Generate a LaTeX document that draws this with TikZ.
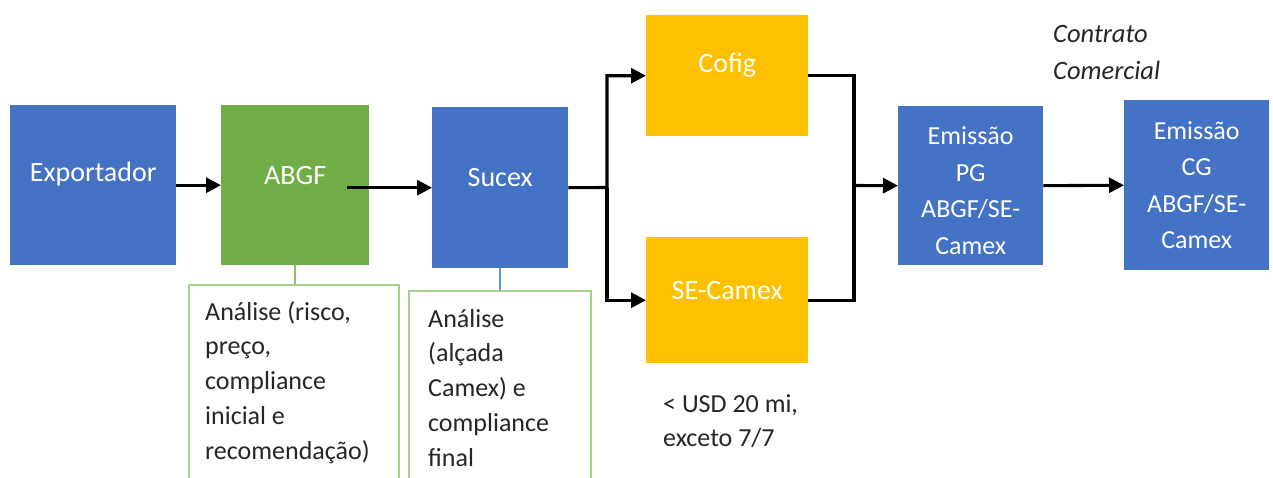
\documentclass[tikz,border=0pt]{standalone}
\usepackage{fontspec}
\setmainfont{Carlito}
\usetikzlibrary{arrows.meta}
\definecolor{cblue}{HTML}{4472C4}
\definecolor{cgreen}{HTML}{70AD47}
\definecolor{cyellow}{HTML}{FFC000}
\definecolor{notegreen}{HTML}{A9D18E}
\definecolor{linkgreen}{HTML}{8CC168}
\definecolor{linkblue}{HTML}{5B9BD5}
\begin{document}
\begin{tikzpicture}[x=1pt,y=-1pt,
  blk/.style={draw=none, inner sep=0pt, anchor=north west},
  bluebox/.style={blk, fill=cblue},
  greenbox/.style={blk, fill=cgreen},
  yellowbox/.style={blk, fill=cyellow},
  boxtxt/.style={text=white, font=\fontsize{26}{36.5}\selectfont, align=center, inner sep=0pt},
  bigtxt/.style={boxtxt, font=\fontsize{28}{36.5}\selectfont},
  notebox/.style={draw=notegreen, line width=1.6pt, inner sep=0pt, anchor=north west},
  notetxt/.style={text=black!85, font=\fontsize{26}{34.7}\selectfont, align=left, inner sep=0pt, anchor=north west},
  plainline/.style={line width=3.1pt, line join=miter},
  arr/.style={plainline, -{Triangle[length=15pt,width=15pt]}}
]
\clip (0,0) rectangle (1273,477);
\fill[white] (0,0) rectangle (1273,477);

% main boxes
\node[bluebox, minimum width=166pt, minimum height=160pt] (exp) at (10,105) {};
\node[greenbox, minimum width=148pt, minimum height=160pt] (abgf) at (221,105) {};
\node[bluebox, minimum width=136pt, minimum height=161pt] (sucex) at (432,107) {};
\node[yellowbox, minimum width=162pt, minimum height=121pt] (cofig) at (646,15) {};
\node[yellowbox, minimum width=162pt, minimum height=126pt] (secamex) at (646,237) {};
\node[bluebox, minimum width=145pt, minimum height=159pt] (pg) at (898,106) {};
\node[bluebox, minimum width=145pt, minimum height=170pt] (cg) at (1124,100) {};

% box texts
\node[bigtxt, yshift=11pt] (expT) at (exp.center) {Exportador};
\node[bigtxt, yshift=10pt] (abgfT) at (abgf.center) {ABGF};
\node[bigtxt, yshift=10pt] (sucexT) at (sucex.center) {Sucex};
\node[bigtxt, yshift=10pt] (cofigT) at (cofig.center) {Cofig};
\node[bigtxt, yshift=10pt] (secamexT) at (secamex.center) {SE-Camex};
\node[boxtxt, yshift=-5pt] (pgT) at (pg.center) {Emissão\\PG\\ABGF/SE-\\Camex};
\node[boxtxt] (cgT) at (cg.center) {Emissão\\CG\\ABGF/SE-\\Camex};

% note boxes
\node[notebox, minimum width=210pt, minimum height=220pt] (note1) at (188,284) {};
\node[notebox, minimum width=182pt, minimum height=220pt] (note2) at (408,290) {};
\draw[linkgreen, line width=1.6pt] (abgf.south) -- (abgf.south |- note1.north);
\draw[linkblue, line width=1.6pt] (sucex.south) -- (sucex.south |- note2.north);
\node[notetxt] (note1T) at (205,301) {Análise (risco,\\preço,\\compliance\\inicial e\\recomendação)};
\node[notetxt] (note2T) at (428,309) {Análise\\(alçada\\Camex) e\\compliance\\final};

% free texts
\node[notetxt, font=\fontsize{26}{34}\selectfont] (usd) at (663,394) {< USD 20 mi,\\exceto 7/7};
\node[notetxt, font=\fontsize{26.5}{37}\selectfont\itshape] (contrato) at (1053,25) {Contrato\\Comercial};

% connectors
\coordinate (split) at (607,187.5);
\coordinate (merge) at (854,185.5);
\draw[arr] (exp) -- (abgf);
\draw[arr] ([xshift=-22pt]abgf.east |- sucex.west) -- (sucex.west);
\draw[arr] (sucex.east) -- (split) |- (cofig.west);
\draw[arr] (split) |- (secamex.west);
\draw[plainline] (cofig.east) -| (merge);
\draw[plainline] (secamex.east) -| (merge);
\draw[arr] (merge) -- (pg.west);
\draw[arr] (pg.east) -- (cg.west);
\end{tikzpicture}
\end{document}
